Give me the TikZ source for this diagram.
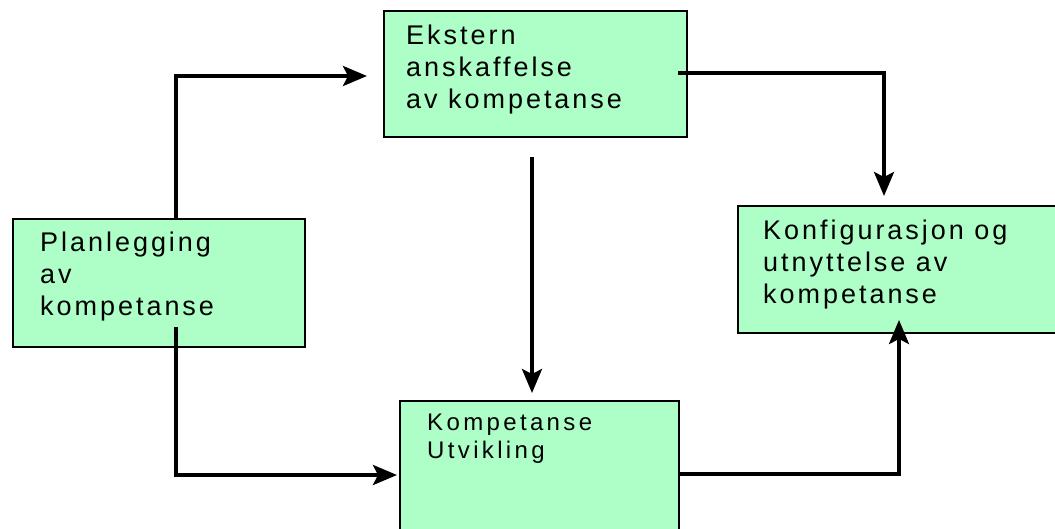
\documentclass[tikz,border=0pt]{standalone}
\usepackage{fontspec}
\usetikzlibrary{arrows.meta,calc}
\newfontfamily\boxfont[LetterSpace=11]{Liberation Sans}
\newfontfamily\smallboxfont[LetterSpace=14]{Liberation Sans}
\definecolor{boxgreen}{RGB}{174,255,199}
\tikzset{
  box/.style={draw=black, line width=2pt, fill=boxgreen, rectangle,
              anchor=north west, inner sep=0pt},
  boxtext/.style={anchor=north west, inner sep=0pt, align=left,
                  font=\boxfont\fontsize{27pt}{32pt}\selectfont},
  smalltext/.style={anchor=north west, inner sep=0pt, align=left,
                  font=\smallboxfont\fontsize{24pt}{28pt}\selectfont},
  arr/.style={draw=black, line width=3.5pt,
              -{Stealth[length=24pt, width=20pt, inset=5pt]}}
}
\begin{document}
\begin{tikzpicture}[x=1pt, y=-1pt]
  \useasboundingbox (0,0) rectangle (1055,528);
  \clip (0,0) rectangle (1055,528);
  \fill[white] (0,0) rectangle (1055,528);

  % boxes
  \node[box, minimum width=292pt, minimum height=128pt] (plan) at (12,218) {};
  \node[box, minimum width=303pt, minimum height=126pt] (ekstern) at (383,10) {};
  \node[box, minimum width=320pt, minimum height=127pt] (konfig) at (737,205) {};
  \node[box, minimum width=279pt, minimum height=150pt] (komp) at (399,400) {};

  % labels
  \node[boxtext] (plantext) at (40,232) {Planlegging\\av\\kompetanse};
  \node[boxtext] (eksterntext) at (406,25) {Ekstern\\anskaffelse\\av kompetanse};
  \node[boxtext] (konfigtext) at (763,220) {Konfigurasjon og\\utnyttelse av\\kompetanse};
  \node[smalltext] (komptext) at (427,414) {Kompetanse\\Utvikling};

  % connectors
  \draw[arr] ($(plan.north)+(17,0)$) |- ($(ekstern.west)+(-16,2)$);
  \draw[arr] ($(ekstern.east)+(-10,-1)$) -| ($(konfig.north)+(-14,-9)$);
  \draw[arr] ($(ekstern.south)+(-3.5,19)$) -- ($(komp.north)+(-7.5,-7)$);
  \draw[arr] ($(plan.south)+(17,-21)$) |- ($(komp.west)+(-2,-1)$);
  \draw[arr] ($(komp.east)+(0,-2)$) -| ($(konfig.south)+(1,-14)$);
\end{tikzpicture}
\end{document}
